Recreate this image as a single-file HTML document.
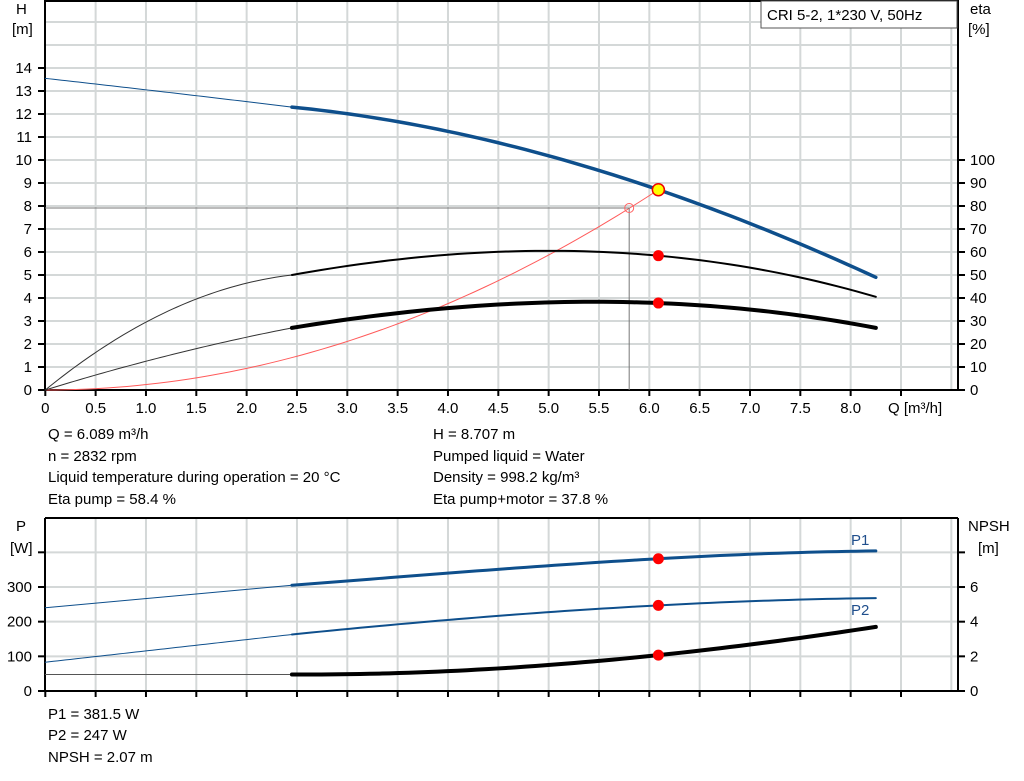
<!DOCTYPE html>
<html><head><meta charset="utf-8"><style>
html,body{margin:0;padding:0;background:#fff;}
svg{display:block;font-family:"Liberation Sans",sans-serif;}
</style></head><body>
<svg id="s" width="1024" height="781" viewBox="0 0 1024 781" xmlns="http://www.w3.org/2000/svg">
<g id="grid" stroke="#d4d8d8" stroke-width="2" fill="none"></g>
<g id="frames" fill="none" stroke="#000" stroke-width="2">
<line x1="45" y1="0" x2="45" y2="390"/><line x1="45" y1="390" x2="958" y2="390"/><line x1="958" y1="0" x2="958" y2="390"/><line x1="45" y1="1" x2="958" y2="1"/>
<line x1="45" y1="518" x2="45" y2="691"/><line x1="45" y1="691" x2="958" y2="691"/><line x1="958" y1="518" x2="958" y2="691"/><line x1="45" y1="518" x2="958" y2="518"/>
</g>
<g id="ticks" stroke="#000" stroke-width="2"></g>
<g id="labels" font-size="15" fill="#000"></g>
<g id="curves" fill="none"></g>
<rect x="761" y="1" width="196" height="27" fill="#fff" stroke="#555" stroke-width="1"/>
<text x="767" y="20" font-size="15">CRI 5-2, 1*230 V, 50Hz</text>
<text x="16" y="14" font-size="15">H</text><text x="12" y="34" font-size="15">[m]</text>
<text x="970" y="14" font-size="15">eta</text><text x="968" y="34" font-size="15">[%]</text>
<text x="888" y="413" font-size="15">Q [m³/h]</text>
<text x="16" y="531" font-size="15">P</text><text x="10" y="553" font-size="15">[W]</text>
<text x="968" y="531" font-size="15">NPSH</text><text x="978" y="553" font-size="15">[m]</text>
<g font-size="15">
<text x="48" y="439">Q = 6.089 m³/h</text>
<text x="48" y="461">n = 2832 rpm</text>
<text x="48" y="482">Liquid temperature during operation = 20 °C</text>
<text x="48" y="504">Eta pump = 58.4 %</text>
<text x="433" y="439">H = 8.707 m</text>
<text x="433" y="461">Pumped liquid = Water</text>
<text x="433" y="482">Density = 998.2 kg/m³</text>
<text x="433" y="504">Eta pump+motor = 37.8 %</text>
<text x="48" y="719">P1 = 381.5 W</text>
<text x="48" y="740">P2 = 247 W</text>
<text x="48" y="762">NPSH = 2.07 m</text>
<text x="851" y="545" fill="#1f4e8c">P1</text>
<text x="851" y="615" fill="#1f4e8c">P2</text>
</g>
</svg>
<script>
const NS="http://www.w3.org/2000/svg";
function el(p,t,a,txt){const e=document.createElementNS(NS,t);for(const k in a)e.setAttribute(k,a[k]);if(txt!==undefined)e.textContent=txt;document.getElementById(p).appendChild(e);return e;}
const X=q=>45.3+q*100.67;
const YH=h=>390-h*23, YE=e=>390-e*2.3, YP=p=>691-p*0.3467, YN=n=>691-n*17.33;
for(let i=1;i<=18;i++){const x=X(i*0.5);el("grid","line",{x1:x,y1:1,x2:x,y2:390});el("grid","line",{x1:x,y1:518,x2:x,y2:691});}
for(let h=1;h<=16;h++){const y=YH(h);if(y>1)el("grid","line",{x1:45,y1:y,x2:958,y2:y});}
for(let p=100;p<=400;p+=100){el("grid","line",{x1:45,y1:YP(p),x2:958,y2:YP(p)});}
for(let h=0;h<=14;h++){const y=YH(h);el("ticks","line",{x1:38,y1:y,x2:45,y2:y});el("labels","text",{x:32,y:y+5,"text-anchor":"end"},String(h));}
for(let e=0;e<=100;e+=10){const y=YE(e);el("ticks","line",{x1:958,y1:y,x2:965,y2:y});el("labels","text",{x:970,y:y+5},String(e));}
for(let i=0;i<=17;i++){const q=i*0.5,x=X(q);el("ticks","line",{x1:x,y1:390,x2:x,y2:396});if(i<=16)el("labels","text",{x:x,y:413,"text-anchor":"middle"},i==0?"0":q.toFixed(1));el("ticks","line",{x1:x,y1:691,x2:x,y2:697});}
for(let p=0;p<=400;p+=100){const y=YP(p);el("ticks","line",{x1:38,y1:y,x2:45,y2:y});if(p<400)el("labels","text",{x:32,y:y+5,"text-anchor":"end"},String(p));}
for(let n=0;n<=8;n+=2){const y=YN(n);el("ticks","line",{x1:958,y1:y,x2:965,y2:y});if(n<8)el("labels","text",{x:970,y:y+5},String(n));}
function lag(pts){return q=>{let s=0;for(let i=0;i<pts.length;i++){let t=pts[i][1];for(let j=0;j<pts.length;j++)if(j!=i)t*=(q-pts[j][0])/(pts[i][0]-pts[j][0]);s+=t;}return s;};}
function curve(pts,fy,col,w){const f=lag(pts);const a=pts[0][0],b=pts[pts.length-1][0];let d="";const n=60;for(let i=0;i<=n;i++){const q=a+(b-a)*i/n;d+=(i?" L":"M")+X(q).toFixed(2)+","+fy(f(q)).toFixed(2);}el("curves","path",{d:d,stroke:col,"stroke-width":w,"stroke-linecap":"round","stroke-linejoin":"round"});}
const B="#0e4f8c";
curve([[0,0],[3,0.2348*9],[6.09,8.707]],YH,"#ff5a5a",1);
el("curves","polyline",{points:`45,208 ${X(5.8)},208 ${X(5.8)},390`,stroke:"#777","stroke-width":1,fill:"none"});
el("curves","circle",{cx:X(5.8),cy:208,r:4.5,stroke:"#ff6060","stroke-width":1,fill:"none"});
curve([[0,13.55],[1.2,12.95],[2.45,12.3]],YH,B,1);
curve([[2.45,12.3],[4.5,10.75],[6.09,8.707],[8.25,4.9]],YH,B,3.5);
curve([[0,0],[1,29.5],[2.45,50]],YE,"#333",1);
curve([[2.45,50],[5.1,60.5],[6.09,58.4],[8.25,40.5]],YE,"#000",2);
curve([[0,0],[1,12.5],[2.45,27]],YE,"#333",1);
curve([[2.45,27],[4,35.6],[6.09,37.8],[8.25,27]],YE,"#000",4);
el("curves","circle",{cx:X(6.09),cy:YE(58.4),r:5.5,fill:"#f00"});
el("curves","circle",{cx:X(6.09),cy:YE(37.8),r:5.5,fill:"#f00"});
el("curves","circle",{cx:X(6.09),cy:YH(8.707),r:6,fill:"#ffff00",stroke:"#e00","stroke-width":1.5});
curve([[0,240],[2.45,305]],YP,B,1);
curve([[2.45,305],[4,340],[6.09,381.5],[8.25,404]],YP,B,3);
curve([[0,83],[2.45,163]],YP,B,1);
curve([[2.45,163],[4,205],[6.09,247],[8.25,268]],YP,B,2);
curve([[0,0.95],[2.45,0.95]],YN,"#555",1);
curve([[2.45,0.95],[5,1.5],[6.09,2.07],[8.25,3.7]],YN,"#000",4);
el("curves","circle",{cx:X(6.09),cy:YP(381.5),r:5.5,fill:"#f00"});
el("curves","circle",{cx:X(6.09),cy:YP(247),r:5.5,fill:"#f00"});
el("curves","circle",{cx:X(6.09),cy:YN(2.07),r:5.5,fill:"#f00"});
</script>
</body></html>
